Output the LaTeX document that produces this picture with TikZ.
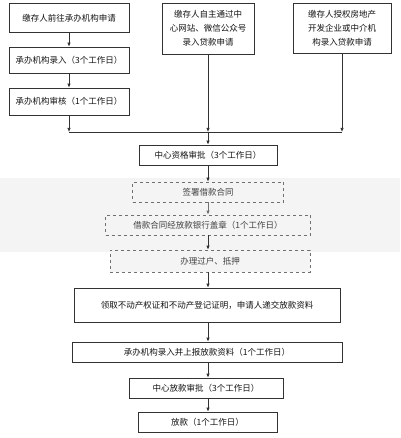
\documentclass[tikz,border=0pt]{standalone}
\usepackage{fontspec}
\setmainfont{Noto Sans CJK SC}
\usetikzlibrary{arrows.meta, positioning}
\definecolor{linec}{RGB}{50,50,50}
\definecolor{inkc}{RGB}{20,20,20}
\definecolor{bandc}{RGB}{244,244,244}
\tikzset{
  box/.style={
    rectangle, draw=linec, line width=0.7pt, fill=white,
    align=center, inner sep=0pt, text=inkc,
    font=\fontsize{8.5}{14}\selectfont
  },
  hazy/.style={box, dashed, draw=linec!70, fill=bandc, text=inkc!80},
  arr/.style={-{Latex[length=4pt, width=3.4pt]}, line width=0.7pt, draw=linec},
  link/.style={line width=0.7pt, draw=linec},
}

\begin{document}
\begin{tikzpicture}[x=1pt, y=-1pt]
  \useasboundingbox (0,0) rectangle (400,438);
  \fill[white] (0,0) rectangle (400,438);
  \fill[bandc] (0,178) rectangle (400,252);

  % three ways to file the application
  \node[box, minimum width=120, minimum height=29] (apply) at (69,18)
    {缴存人前往承办机构申请};
  \node[box, minimum width=120, minimum height=26] (entry) at (69,60)
    {承办机构录入（3个工作日）};
  \node[box, minimum width=120, minimum height=27] (audit) at (69,101.5)
    {承办机构审核（1个工作日）};
  \node[box, minimum width=92, minimum height=51] (online) at (208,28.5)
    {缴存人自主通过中\\心网站、微信公众号\\录入贷款申请};
  \node[box, minimum width=98, minimum height=50] (agent) at (342,28)
    {缴存人授权房地产\\开发企业或中介机\\构录入贷款申请};

  \coordinate (jl) at (69,132);
  \coordinate (jm) at (208,132);
  \coordinate (jr) at (342,132);

  % main column
  \node[box, minimum width=138, minimum height=20] (qual) at (208,155)
    {中心资格审批（3个工作日）};
  \node[hazy, minimum width=151, minimum height=20] (sign) at (208,192)
    {签署借款合同};
  \node[hazy, minimum width=205, minimum height=20] (stamp) at (208,225)
    {借款合同经放款银行盖章（1个工作日）};
  \node[hazy, minimum width=200, minimum height=22] (transfer) at (210,261)
    {办理过户、抵押};
  \node[box, minimum width=266, minimum height=34] (collect) at (207,305)
    {领取不动产权证和不动产登记证明，申请人递交放款资料};
  \node[box, minimum width=270, minimum height=20] (report) at (207,352)
    {承办机构录入并上报放款资料（1个工作日）};
  \node[box, minimum width=154, minimum height=20] (lendok) at (206,388)
    {中心放款审批（3个工作日）};
  \node[box, minimum width=139, minimum height=20] (lend) at (207.5,422)
    {放款（1个工作日）};

  \draw[arr] (apply) -- (entry);
  \draw[arr] (entry) -- (audit);
  \draw[arr] (audit) -- (jl);
  \draw[arr] (online) -- (jm);
  \draw[arr] (agent) -- (jr);
  \draw[link] (jl) -- (jr);
  \draw[arr] (jm) -- (qual);

  \draw[arr] (qual.south -| jm) -- (sign.north -| jm);
  \draw[arr, draw=linec!70] (sign.south -| jm) -- (stamp.north -| jm);
  \draw[arr] (stamp.south -| jm) -- (transfer.north -| jm);
  \draw[arr] (transfer.south -| jm) -- (collect.north -| jm);
  \draw[arr] (collect.south -| jm) -- (report.north -| jm);
  \draw[arr] (report.south -| jm) -- (lendok.north -| jm);
  \draw[arr] (lendok.south -| jm) -- (lend.north -| jm);

\end{tikzpicture}
\end{document}
